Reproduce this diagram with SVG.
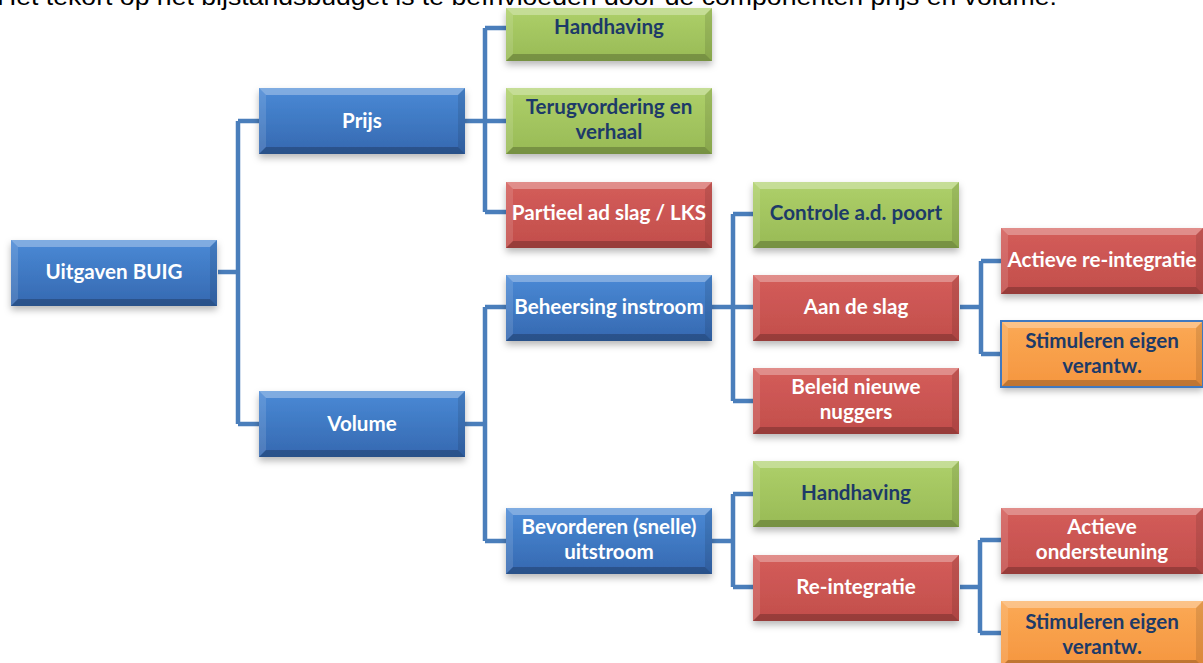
<svg xmlns="http://www.w3.org/2000/svg" xmlns:xlink="http://www.w3.org/1999/xlink" width="1203" height="663" viewBox="0 0 1203 663">
<style>
.lbl{font-family:Lato,"Open Sans","Liberation Sans",sans-serif;font-weight:bold;font-size:20.6px;text-anchor:middle}
.w{fill:#ffffff}
.d{fill:#1d3a68}
.blue{fill:url(#gBlue)}
.green{fill:url(#gGreen)}
.red{fill:url(#gRed)}
.orange{fill:url(#gOrange)}
.hi{fill:#ffffff;fill-opacity:0.3}
.hs{fill:#ffffff;fill-opacity:0.12}
.sh{fill:#000000;fill-opacity:0.1}
.lo{fill:#000000;fill-opacity:0.22}
.conn{fill:none;stroke:#4a7ebb;stroke-width:4.5;stroke-linejoin:miter}
</style>
<defs>
<linearGradient id="gBlue" x1="0" y1="0" x2="0" y2="1"><stop offset="0" stop-color="#4a8ad6"/><stop offset="1" stop-color="#3568b0"/></linearGradient>
<linearGradient id="gGreen" x1="0" y1="0" x2="0" y2="1"><stop offset="0" stop-color="#aed06a"/><stop offset="1" stop-color="#98ba55"/></linearGradient>
<linearGradient id="gRed" x1="0" y1="0" x2="0" y2="1"><stop offset="0" stop-color="#d45d5a"/><stop offset="1" stop-color="#c24e4b"/></linearGradient>
<linearGradient id="gOrange" x1="0" y1="0" x2="0" y2="1"><stop offset="0" stop-color="#fba955"/><stop offset="1" stop-color="#f5963f"/></linearGradient>
<filter id="shadow" x="-10%" y="-20%" width="120%" height="150%"><feDropShadow dx="0" dy="4" stdDeviation="3.5" flood-color="#000000" flood-opacity="0.28"/></filter>
<g id="bev">
<path class="hi" d="M0,0H206L199,7H7Z"/>
<path class="hs" d="M0,0L7,7V59L0,66Z"/>
<path class="sh" d="M206,0L199,7V59L206,66Z"/>
<path class="lo" d="M0,66H206L199,59H7Z"/>
</g>
<g id="bevN">
<path class="hi" d="M0,0H202L195,7H7Z"/>
<path class="hs" d="M0,0L7,7V59L0,66Z"/>
<path class="sh" d="M202,0L195,7V59L202,66Z"/>
<path class="lo" d="M0,66H202L195,59H7Z"/>
</g>
<g id="bevS">
<path class="hi" d="M0,0H206L199,7H7Z"/>
<path class="hs" d="M0,0L7,7V46L0,53Z"/>
<path class="sh" d="M206,0L199,7V46L206,53Z"/>
<path class="lo" d="M0,53H206L199,46H7Z"/>
</g>
</defs>
<rect width="1203" height="663" fill="#ffffff"/>
<text x="-3" y="5" font-family="'Liberation Sans',Arial,sans-serif" font-size="24" fill="#000000" textLength="1060" lengthAdjust="spacingAndGlyphs">Het tekort op het bijstandsbudget is te beïnvloeden door de componenten prijs en volume.</text>

<g id="connectors">
<path class="conn" d="M218,272H238M238,121V424M238,121H259M238,424H259"/>
<path class="conn" d="M465,121H506M485,28V212M485,28H506M485,212H506"/>
<path class="conn" d="M465,424H485M485,307V541M485,307H506M485,541H506"/>
<path class="conn" d="M712,307H753M733,214V401M733,214H753M733,401H753"/>
<path class="conn" d="M960,307H981M981,261V354M981,261H1001M981,354H1001"/>
<path class="conn" d="M712,541H733M733,494V587M733,494H753M733,587H753"/>
<path class="conn" d="M960,587H980M980,540V633M980,540H1001M980,633H1001"/>
</g>

<g id="uitgaven" transform="translate(11,240)"><rect class="blue" width="206" height="66" filter="url(#shadow)"/><use xlink:href="#bev"/><text class="lbl w" x="103" y="39">Uitgaven BUIG</text></g>
<g id="prijs" transform="translate(259,88)"><rect class="blue" width="206" height="66" filter="url(#shadow)"/><use xlink:href="#bev"/><text class="lbl w" x="103" y="40">Prijs</text></g>
<g id="volume" transform="translate(259,391)"><rect class="blue" width="206" height="66" filter="url(#shadow)"/><use xlink:href="#bev"/><text class="lbl w" x="103" y="40">Volume</text></g>

<g id="handhaving1" transform="translate(506,8)"><rect class="green" width="206" height="53" filter="url(#shadow)"/><use xlink:href="#bevS"/><text class="lbl d" x="103" y="26">Handhaving</text></g>
<g id="terugvordering" transform="translate(506,88)"><rect class="green" width="206" height="66" filter="url(#shadow)"/><use xlink:href="#bev"/><text class="lbl d" x="103" y="26">Terugvordering en</text><text class="lbl d" x="103" y="51">verhaal</text></g>
<g id="partieel" transform="translate(506,182)"><rect class="red" width="206" height="66" filter="url(#shadow)"/><use xlink:href="#bev"/><text class="lbl w" x="103" y="38">Partieel ad slag / LKS</text></g>

<g id="beheersing" transform="translate(506,275)"><rect class="blue" width="206" height="66" filter="url(#shadow)"/><use xlink:href="#bev"/><text class="lbl w" x="103" y="39">Beheersing instroom</text></g>
<g id="bevorderen" transform="translate(506,508)"><rect class="blue" width="206" height="66" filter="url(#shadow)"/><use xlink:href="#bev"/><text class="lbl w" x="103" y="26">Bevorderen (snelle)</text><text class="lbl w" x="103" y="51">uitstroom</text></g>

<g id="controle" transform="translate(753,182)"><rect class="green" width="206" height="66" filter="url(#shadow)"/><use xlink:href="#bev"/><text class="lbl d" x="103" y="38">Controle a.d. poort</text></g>
<g id="aandeslag" transform="translate(753,275)"><rect class="red" width="206" height="66" filter="url(#shadow)"/><use xlink:href="#bev"/><text class="lbl w" x="103" y="39">Aan de slag</text></g>
<g id="beleid" transform="translate(753,368)"><rect class="red" width="206" height="66" filter="url(#shadow)"/><use xlink:href="#bev"/><text class="lbl w" x="103" y="26">Beleid nieuwe</text><text class="lbl w" x="103" y="51">nuggers</text></g>

<g id="actieve1" transform="translate(1001,228)"><rect class="red" width="202" height="66" filter="url(#shadow)"/><use xlink:href="#bevN"/><text class="lbl w" x="101" y="39">Actieve re-integratie</text></g>
<g id="stimuleren1" transform="translate(1001,321)"><rect class="orange" width="202" height="66" filter="url(#shadow)"/><use xlink:href="#bevN"/><rect width="202" height="66" fill="none" stroke="#3f78c0" stroke-width="2"/><text class="lbl d" x="101" y="27">Stimuleren eigen</text><text class="lbl d" x="101" y="52">verantw.</text></g>

<g id="handhaving2" transform="translate(753,461)"><rect class="green" width="206" height="66" filter="url(#shadow)"/><use xlink:href="#bev"/><text class="lbl d" x="103" y="39">Handhaving</text></g>
<g id="reintegratie" transform="translate(753,555)"><rect class="red" width="206" height="66" filter="url(#shadow)"/><use xlink:href="#bev"/><text class="lbl w" x="103" y="39">Re-integratie</text></g>

<g id="actieve2" transform="translate(1001,508)"><rect class="red" width="202" height="66" filter="url(#shadow)"/><use xlink:href="#bevN"/><text class="lbl w" x="101" y="26">Actieve</text><text class="lbl w" x="101" y="51">ondersteuning</text></g>
<g id="stimuleren2" transform="translate(1001,601)"><rect class="orange" width="202" height="66" filter="url(#shadow)"/><use xlink:href="#bevN"/><text class="lbl d" x="101" y="28">Stimuleren eigen</text><text class="lbl d" x="101" y="53">verantw.</text></g>
</svg>
